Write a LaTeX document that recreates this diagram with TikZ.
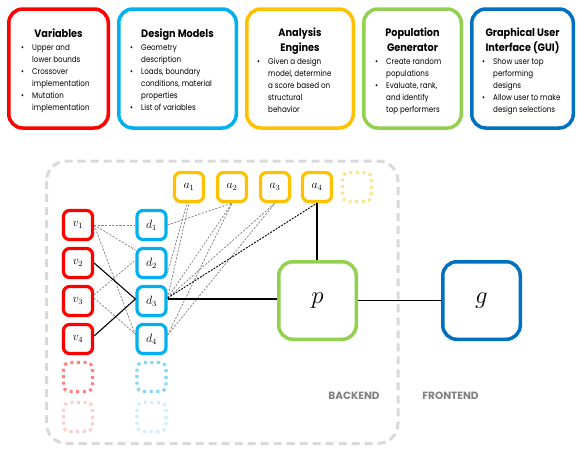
\documentclass[tikz,border=0pt]{standalone}
\usepackage{fontspec}
\setmainfont{Poppins}
\newfontfamily\bodyfont[FakeStretch=0.86]{Poppins}
\newfontfamily\titlefont[FakeStretch=0.9]{Poppins}
\definecolor{cRed}{HTML}{FF0000}
\definecolor{cCyan}{HTML}{00B0F0}
\definecolor{cGold}{HTML}{FFC000}
\definecolor{cGreen}{HTML}{92D050}
\definecolor{cBlue}{HTML}{0070C0}
\definecolor{cFrame}{HTML}{D9D9D9}
\definecolor{cLink}{HTML}{7F7F7F}
\definecolor{cLabel}{HTML}{808080}
\newcommand\bul{\makebox[11pt][l]{\textbullet}}
\newcommand\ind{\hspace*{11pt}}
\newcommand\ttl[1]{\parbox[t]{110pt}{\centering\titlefont\fontsize{10.8}{15}\selectfont\bfseries #1}}
\newcommand\bodytext[1]{\parbox[t]{100pt}{\raggedright\bodyfont\fontsize{8.3}{12}\selectfont #1}}
\tikzset{
  topbox/.style 2 args={draw=#1, line width=3.5pt, rounded corners=14pt,
    minimum width=#2, minimum height=119pt, inner sep=0pt},
  smallbox/.style={draw=#1, fill=white, line width=3.2pt, rounded corners=6pt,
    minimum size=29pt, inner sep=0pt, font=\fontsize{12}{14}\selectfont},
  ghostbox/.style={draw=#1, line width=3.2pt, rounded corners=6pt,
    minimum size=29pt, inner sep=0pt, dash pattern=on 3pt off 3.6pt},
  bigbox/.style={draw=#1, fill=white, line width=3.5pt, rounded corners=14pt,
    minimum size=77.5pt, inner sep=0pt, font=\fontsize{26}{30}\selectfont},
  link/.style={draw=cLink, line width=0.7pt, dash pattern=on 2.2pt off 1.4pt},
  keylink/.style={draw=black, line width=0.9pt, dash pattern=on 2pt off 1.2pt},
  solidlink/.style={draw=black, line width=1.1pt},
  sidelabel/.style={text=cLabel, font=\fontsize{10.5}{12}\selectfont\bfseries},
}
\begin{document}
\begin{tikzpicture}[x=1pt, y=-1pt]
\useasboundingbox (0,0) rectangle (577,448);

% ---- module cards ----
\node[topbox={cRed}{99.5pt}]   (vars) at (58.5,68.5)  {};
\node[topbox={cCyan}{117.5pt}] (dm)   at (177.5,68.5) {};
\node[topbox={cGold}{106.5pt}] (ae)   at (300,68.5)   {};
\node[topbox={cGreen}{97.5pt}] (pg)   at (412.5,68.5) {};
\node[topbox={cBlue}{101.5pt}] (gui)  at (522.5,68.5) {};

\node[anchor=base, inner sep=0pt] (varsT) at (58.5,37) {\ttl{Variables}};
\node[anchor=base west, inner sep=0pt] (varsB) at (21,50) {\bodytext{%
  \bul Upper and\\\ind lower bounds\\\bul Crossover\\\ind implementation\\\bul Mutation\\\ind implementation}};

\node[anchor=base, inner sep=0pt] (dmT) at (177.5,37) {\ttl{Design Models}};
\node[anchor=base west, inner sep=0pt] (dmB) at (130,50) {\bodytext{%
  \bul Geometry\\\ind description\\\bul Loads, boundary\\\ind conditions, material\\\ind properties\\\bul List of variables}};

\node[anchor=base, inner sep=0pt] (aeT) at (300,36) {\ttl{Analysis\\Engines}};
\node[anchor=base west, inner sep=0pt] (aeB) at (257,64) {\bodytext{%
  \bul Given a design\\\ind model, determine\\\ind a score based on\\\ind structural\\\ind behavior}};

\node[anchor=base, inner sep=0pt] (pgT) at (412.5,36) {\ttl{Population\\Generator}};
\node[anchor=base west, inner sep=0pt] (pgB) at (375,64) {\bodytext{%
  \bul Create random\\\ind populations\\\bul Evaluate, rank,\\\ind and identify\\\ind top performers}};

\node[anchor=base, inner sep=0pt] (guiT) at (522.5,36) {\ttl{Graphical User\\Interface (GUI)}};
\node[anchor=base west, inner sep=0pt] (guiB) at (482,64) {\bodytext{%
  \bul Show user top\\\ind performing\\\ind designs\\\bul Allow user to make\\\ind design selections}};

% ---- backend frame ----
\draw[cFrame, line width=3pt, rounded corners=20pt, dash pattern=on 8pt off 5pt]
  (46.5,161) rectangle (398,443.5);

% ---- variables and design models ----
\foreach \i/\y in {1/225,2/263,3/301,4/339}{
  \node[smallbox=cRed]  (v\i) at (78,\y)    {$v_{\i}$};
  \node[smallbox=cCyan] (d\i) at (151.5,\y) {$d_{\i}$};
}
\node[ghostbox=cRed!50]  (v5) at (78,377)    {};
\node[ghostbox=cRed!20]  (v6) at (78,417)    {};
\node[ghostbox=cCyan!50] (d5) at (151.5,377) {};
\node[ghostbox=cCyan!20] (d6) at (151.5,417) {};

% ---- analysis engines ----
\foreach \i/\x in {1/189,2/232,3/275,4/317}{
  \node[smallbox=cGold] (a\i) at (\x,187) {$a_{\i}$};
}
\node[ghostbox=cGold!45] (a5) at (357,187) {};

% ---- population generator and GUI ----
\node[bigbox=cGreen] (p) at (317.5,300.5) {$p$};
\node[bigbox=cBlue]  (g) at (481.5,300.5) {$g$};

% ---- variable to design-model links ----
\draw[link] (v1.east) -- (d1.west);
\draw[link] (v1.east) -- ([yshift=13pt]d2.west);
\draw[link] (v1.east) -- ([yshift=4pt]d4.west);
\draw[link] ([yshift=6pt]v3.east) -- ([yshift=3pt]d2.west);
\draw[link] ([yshift=3pt]v3.east) -- ([yshift=5pt]d4.west);
\draw[solidlink] (v2.east) -- ([yshift=2pt]d3.west);
\draw[solidlink] ([yshift=3pt]v4.east) -- ([yshift=2pt]d3.west);

% ---- design-model to analysis-engine links ----
\draw[link] (d1.east) -- (a2.south);
\draw[link] ([yshift=-10pt]d2.east) -- ([xshift=-2pt]a1.south);
\draw[link] ([yshift=3pt]d3.east) -- (a1.south);
\draw[link] ([yshift=3pt]d3.east) -- (a2.south);
\draw[link] ([yshift=3pt]d3.east) -- (a3.south);
\draw[link] ([yshift=4pt]d4.east) -- (a2.south);
\draw[link] ([yshift=4pt]d4.east) -- (a3.south);
\draw[keylink] ([yshift=3pt]d3.east) -- (a4.south);

% ---- selected chain ----
\draw[solidlink] (a4.south) -- (a4.south |- p.north);
\draw[solidlink] ([yshift=2pt]d3.east) -- ([yshift=2pt]d3.east -| p.west);
\draw[solidlink] (p.east) -- (g.west);

% ---- side labels ----
\node[sidelabel] (be) at (354,396) {BACKEND};
\node[sidelabel] (fe) at (450.5,396) {FRONTEND};
\end{tikzpicture}
\end{document}
